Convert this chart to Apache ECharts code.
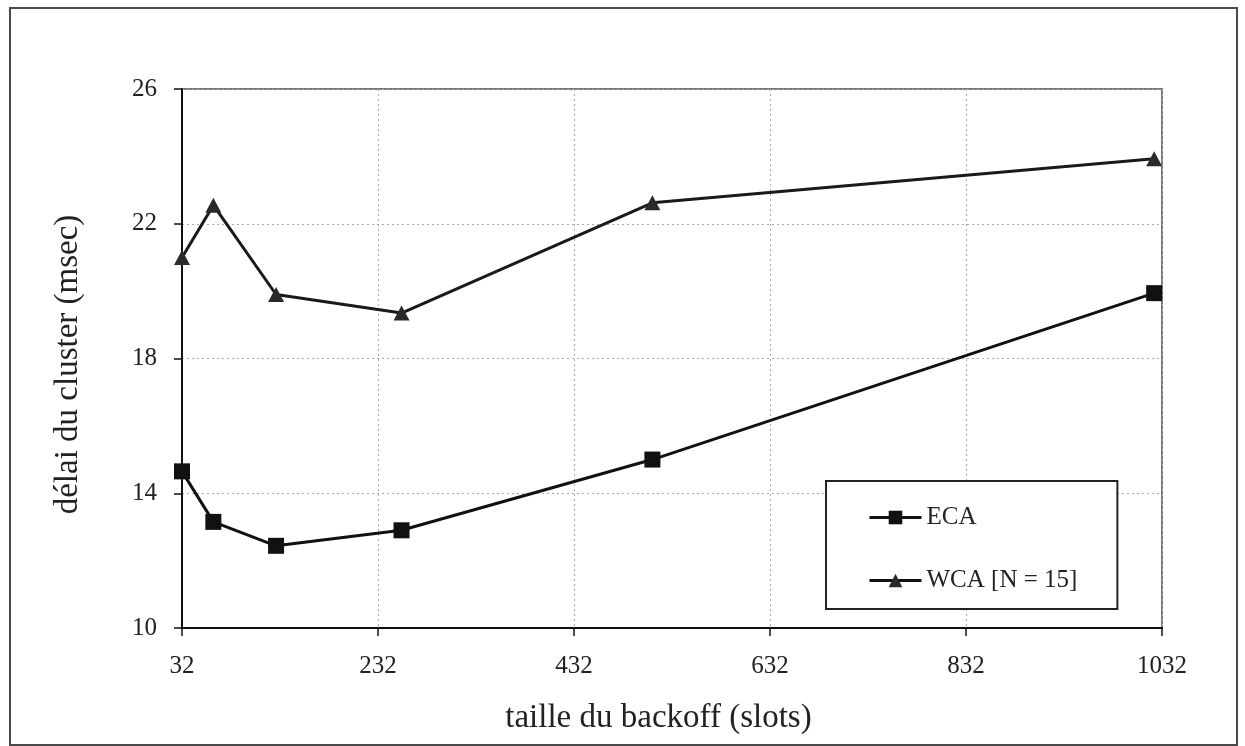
<!DOCTYPE html>
<html>
<head>
<meta charset="utf-8">
<script src="https://cdn.jsdelivr.net/npm/echarts@6/dist/echarts.min.js"></script>
<style>
  html, body { margin: 0; padding: 0; background: #fff; }
  #chart { width: 1245px; height: 746px; }
</style>
</head>
<body>
<div id="chart"></div>
<script>
// Backoff window sizes (slots)
const backoff = [32, 64, 128, 256, 512, 1024];
// Cluster delay (msec) per algorithm
const ecaDelay = [14.65, 13.15, 12.44, 12.9, 15.0, 19.94];
const wcaDelay = [21.0, 22.55, 19.9, 19.35, 22.62, 23.93];
const seriesNames = ['ECA', 'WCA [N = 15]'];
// Axis ranges / ticks
const xTicks = { min: 32, max: 1032, interval: 200 };
const yTicks = { min: 10, max: 26, interval: 4 };

const serif = '"Liberation Serif", "DejaVu Serif", serif';
const pairs = (xs, ys) => xs.map((x, i) => [x, ys[i]]);
const plain = v => String(v);

const chart = echarts.init(document.getElementById('chart'), null, { renderer: 'canvas' });

chart.setOption({
  backgroundColor: '#ffffff',
  animation: false,
  graphic: [{
    type: 'rect',
    shape: { x: 10, y: 8, width: 1227, height: 737 },
    style: { fill: 'none', stroke: '#4a4a4a', lineWidth: 2 },
    z: 0
  }],
  grid: {
    left: 182, top: 89, width: 980, height: 539,
    show: true, borderColor: '#7a7a7a', borderWidth: 2, backgroundColor: 'transparent'
  },
  xAxis: {
    type: 'value',
    min: xTicks.min, max: xTicks.max, interval: xTicks.interval,
    name: 'taille du backoff (slots)',
    nameLocation: 'middle',
    nameGap: 74,
    nameTextStyle: { fontFamily: serif, fontSize: 33, color: '#222', padding: [0, 27, 0, 0] },
    axisLine: { show: true, onZero: false, lineStyle: { color: '#111', width: 2 } },
    axisTick: { show: true, inside: false, length: 8, lineStyle: { color: '#111', width: 1.5 } },
    axisLabel: { fontFamily: serif, fontSize: 25, color: '#222', margin: 26, formatter: plain },
    splitLine: { show: true, lineStyle: { color: '#aaaaaa', type: [2, 3], width: 1 } }
  },
  yAxis: {
    type: 'value',
    min: yTicks.min, max: yTicks.max, interval: yTicks.interval,
    name: 'délai du cluster (msec)',
    nameLocation: 'middle',
    nameGap: 97,
    nameRotate: 90,
    nameTextStyle: { fontFamily: serif, fontSize: 33, color: '#222', padding: [0, 12, 0, 0] },
    axisLine: { show: true, onZero: false, lineStyle: { color: '#111', width: 2 } },
    axisTick: { show: true, inside: false, length: 8, lineStyle: { color: '#111', width: 1.5 } },
    axisLabel: { fontFamily: serif, fontSize: 25, color: '#222', margin: 25, formatter: plain },
    splitLine: { show: true, lineStyle: { color: '#aaaaaa', type: [2, 3], width: 1 } }
  },
  legend: {
    orient: 'vertical',
    left: 826, top: 481,
    padding: [24, 40, 16, 42],
    itemGap: 38,
    itemWidth: 52,
    itemHeight: 17,
    backgroundColor: '#ffffff',
    borderColor: '#222',
    borderWidth: 2,
    borderRadius: 0,
    lineStyle: { width: 3, color: '#111' },
    textStyle: { fontFamily: serif, fontSize: 25, color: '#222' },
    data: seriesNames
  },
  series: [
    {
      name: seriesNames[0],
      type: 'line',
      data: pairs(backoff, ecaDelay),
      symbol: 'rect',
      symbolSize: 16,
      lineStyle: { color: '#111', width: 3 },
      itemStyle: { color: '#111' },
      z: 3
    },
    {
      name: seriesNames[1],
      type: 'line',
      data: pairs(backoff, wcaDelay),
      symbol: 'triangle',
      symbolSize: [16, 15],
      lineStyle: { color: '#1a1a1a', width: 3 },
      itemStyle: { color: '#2a2a2a' },
      z: 3
    }
  ]
});
</script>
</body>
</html>
